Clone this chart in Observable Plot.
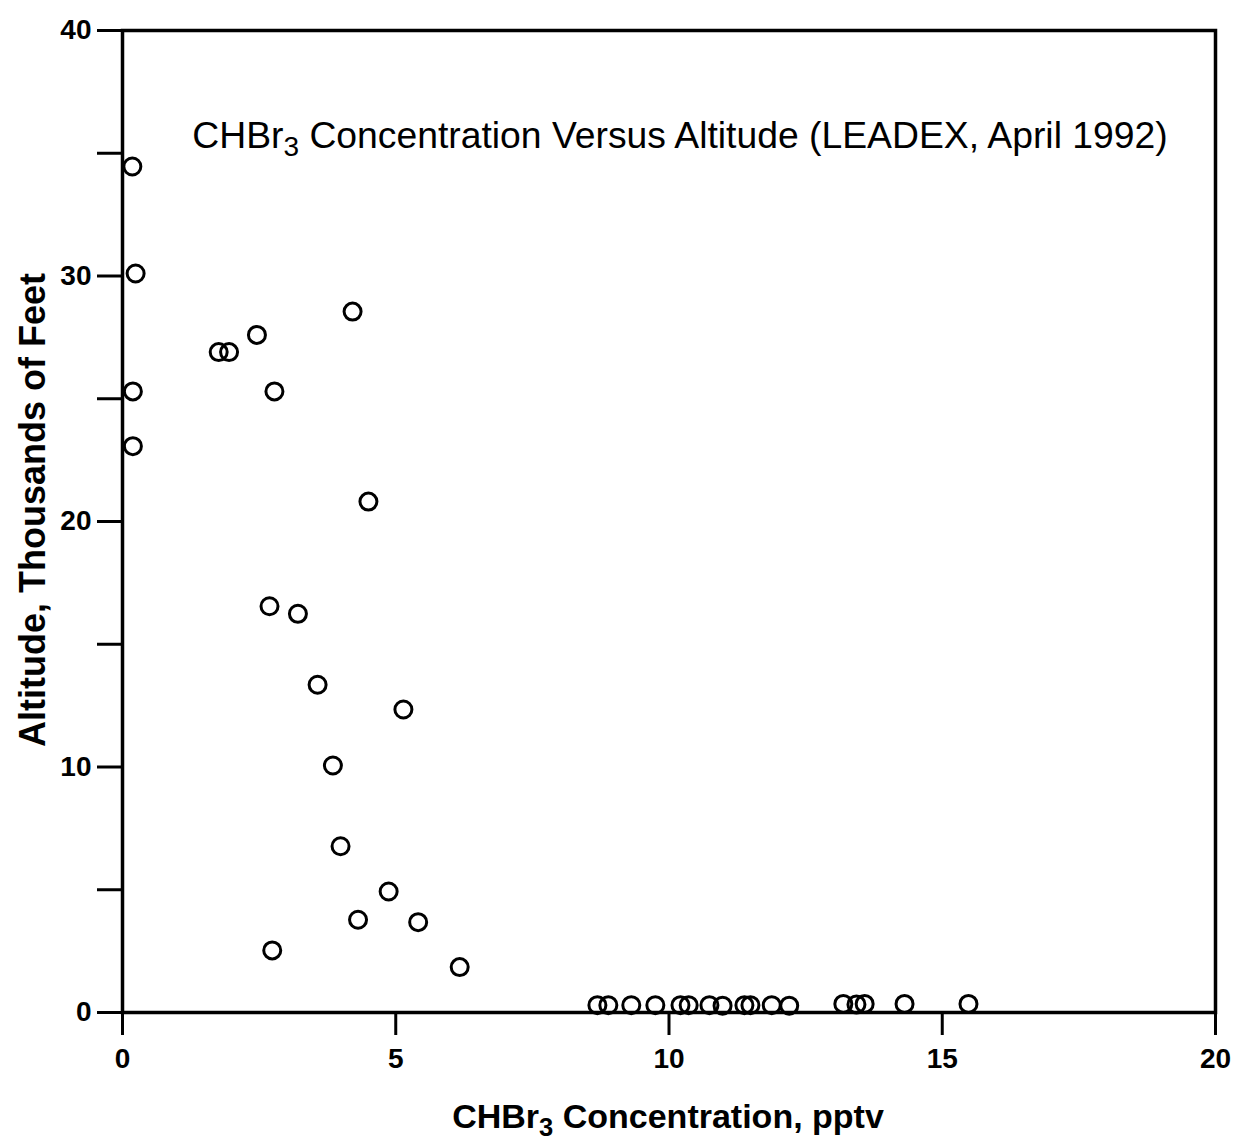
<!DOCTYPE html>
<html>
<head>
<meta charset="utf-8">
<script src="https://cdn.jsdelivr.net/npm/d3@7"></script>
<script src="https://cdn.jsdelivr.net/npm/@observablehq/plot@0.6"></script>
<style>
  html, body { margin: 0; padding: 0; background: #fff; }
  #chart svg { display: block; }
</style>
</head>
<body>
<div id="chart"></div>
<script>
// CHBr3 concentration (pptv)
const concentration = [
  0.18, 0.24, 0.19, 0.19,
  4.21, 2.46, 1.76, 1.95, 2.78, 4.50,
  2.69, 3.21, 3.57, 5.14, 3.85, 3.99, 4.87, 4.31, 5.41, 2.74, 6.17,
  8.69, 8.89, 9.31, 9.75, 10.21, 10.36, 10.74, 10.98, 11.38, 11.49, 11.88, 12.20,
  13.19, 13.43, 13.58, 14.31, 15.48
];
// Altitude (thousands of feet)
const altitude = [
  34.46, 30.1, 25.3, 23.07,
  28.55, 27.6, 26.9, 26.9, 25.3, 20.81,
  16.55, 16.24, 13.35, 12.34, 10.06, 6.77, 4.93, 3.78, 3.68, 2.53, 1.85,
  0.3, 0.3, 0.3, 0.3, 0.3, 0.3, 0.3, 0.28, 0.3, 0.3, 0.3, 0.28,
  0.35, 0.33, 0.35, 0.35, 0.35
];
const xTicks = [0, 5, 10, 15, 20];
const yTicks = [0, 5, 10, 15, 20, 25, 30, 35, 40];
const yLabelTicks = [0, 10, 20, 30, 40];

const data = concentration.map((c, i) => ({c, a: altitude[i]}));
const FONT = "'Liberation Sans', Arial, Helvetica, sans-serif";

const W = 1237, H = 1140;
const plot = Plot.plot({
  width: W,
  height: H,
  marginLeft: 122,
  marginRight: 22,
  marginTop: 30,
  marginBottom: 128,
  style: {fontFamily: FONT, background: "#fff", color: "#000"},
  x: {domain: [0, 20]},
  y: {domain: [0, 40]},
  marks: [
    Plot.axisX({ticks: xTicks, tickSize: 23, tickPadding: 13, strokeWidth: 3, fontSize: 28, fontWeight: "bold", label: null}),
    Plot.axisY({ticks: yTicks, tickSize: 25, tickPadding: 6, strokeWidth: 3, fontSize: 28, fontWeight: "bold", label: null,
      tickFormat: d => yLabelTicks.includes(d) ? String(d) : ""}),
    Plot.frame({stroke: "#000", strokeWidth: 3.5}),
    Plot.dot(data, {x: "c", y: "a", r: 8.5, stroke: "#000", strokeWidth: 3, fill: "none"})
  ]
});
document.getElementById("chart").appendChild(plot);

const svg = d3.select(plot);
// enforce tick label size/weight and tick thickness
svg.selectAll('g[aria-label$="tick label"]').attr("font-size", 28).attr("font-weight", "bold").attr("font-family", FONT)
  .selectAll("text").attr("font-size", 28);
svg.selectAll('g[aria-label="x-axis tick"], g[aria-label="y-axis tick"]').attr("stroke-width", 3).attr("stroke", "#000");

function addLabel(parts, attrs) {
  const t = svg.append("text");
  Object.entries(attrs).forEach(([k, v]) => t.attr(k, v));
  parts.forEach(p => {
    const s = t.append("tspan").text(p.text);
    if (p.sub) s.attr("baseline-shift", "-30%").attr("font-size", "75%");
  });
  return t;
}
// Title inside the plot
addLabel([{text: "CHBr"}, {text: "3", sub: true}, {text: " Concentration Versus Altitude (LEADEX, April 1992)"}],
  {x: 680, y: 148, "text-anchor": "middle", "font-size": 37.3, "font-family": FONT, fill: "#000"});
// X axis label
addLabel([{text: "CHBr"}, {text: "3", sub: true}, {text: " Concentration, pptv"}],
  {x: 668, y: 1128, "text-anchor": "middle", "font-size": 34, "font-weight": "bold", "font-family": FONT, fill: "#000"});
// Y axis label
addLabel([{text: "Altitude, Thousands of Feet"}],
  {transform: "translate(45,510) rotate(-90)", "text-anchor": "middle", "font-size": 36, "font-weight": "bold", "font-family": FONT, fill: "#000"});
</script>
</body>
</html>
